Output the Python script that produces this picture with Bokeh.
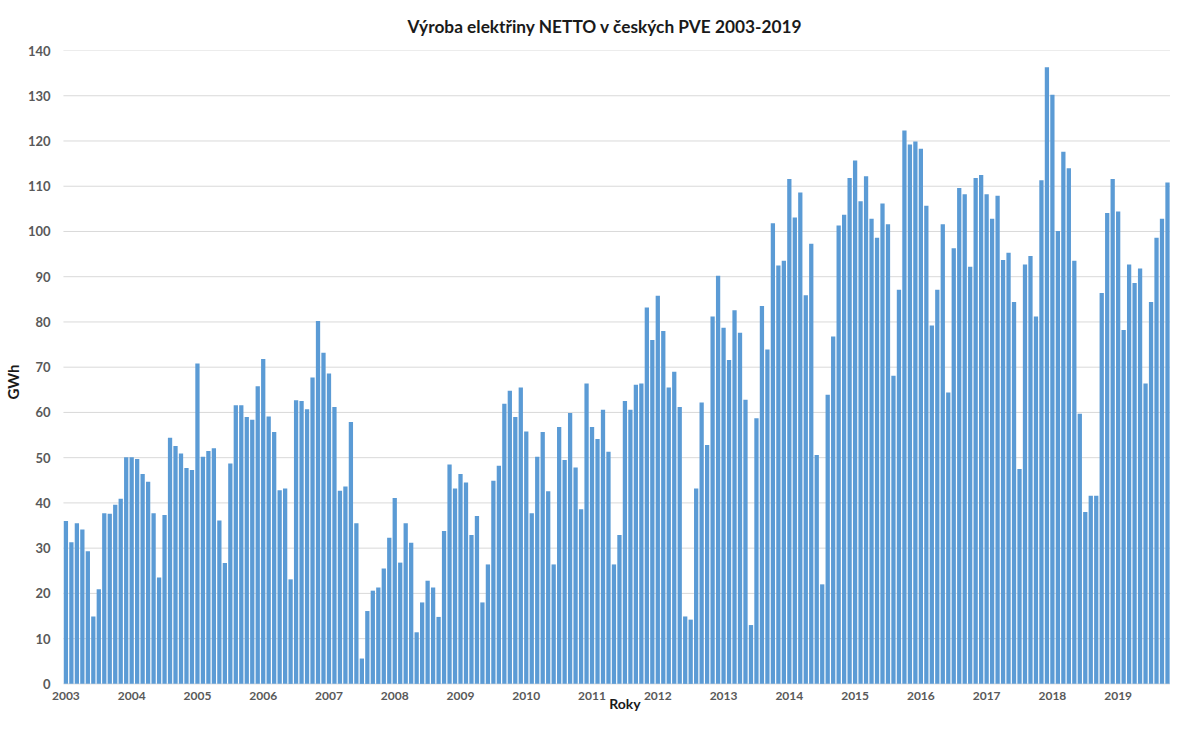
from bokeh.plotting import figure
from bokeh.models import ColumnDataSource, Range1d, FixedTicker, Title
from bokeh.core.properties import value
from bokeh.embed import file_html
from bokeh.resources import INLINE

title_text = "Výroba elektřiny NETTO v českých PVE 2003-2019"
y_label = "GWh"
x_label = "Roky"

years = [str(y) for y in range(2003, 2020)]
y_ticks = list(range(0, 141, 10))

v2003 = [36.0, 31.3, 35.5, 34.1, 29.3, 14.9, 20.9, 37.7, 37.6, 39.6, 40.9, 50.1]
v2004 = [50.1, 49.7, 46.4, 44.7, 37.7, 23.5, 37.3, 54.4, 52.6, 50.9, 47.7, 47.3]
v2005 = [70.8, 50.2, 51.5, 52.1, 36.1, 26.7, 48.7, 61.6, 61.6, 59.0, 58.4, 65.8]
v2006 = [71.8, 59.1, 55.7, 42.8, 43.2, 23.1, 62.7, 62.5, 60.7, 67.7, 80.2, 73.2]
v2007 = [68.6, 61.2, 42.7, 43.6, 57.9, 35.5, 5.6, 16.1, 20.6, 21.3, 25.5, 32.3]
v2008 = [41.1, 26.8, 35.5, 31.2, 11.4, 18.0, 22.8, 21.3, 14.8, 33.8, 48.5, 43.2]
v2009 = [46.4, 44.5, 32.9, 37.1, 18.0, 26.4, 44.9, 48.2, 61.9, 64.8, 59.0, 65.5]
v2010 = [55.8, 37.7, 50.2, 55.7, 42.6, 26.4, 56.8, 49.5, 59.9, 47.8, 38.6, 66.4]
v2011 = [56.8, 54.1, 60.6, 51.3, 26.4, 32.9, 62.5, 60.6, 66.1, 66.4, 83.2, 76.0]
v2012 = [85.8, 78.0, 65.5, 69.0, 61.2, 14.9, 14.2, 43.2, 62.2, 52.8, 81.2, 90.2]
v2013 = [78.7, 71.6, 82.6, 77.6, 62.8, 13.0, 58.7, 83.5, 73.9, 101.8, 92.5, 93.5]
v2014 = [111.6, 103.1, 108.6, 85.9, 97.3, 50.6, 22.0, 63.9, 76.8, 101.3, 103.7, 111.8]
v2015 = [115.7, 106.7, 112.2, 102.8, 98.6, 106.2, 101.6, 68.1, 87.1, 122.3, 119.2, 119.9]
v2016 = [118.3, 105.7, 79.2, 87.1, 101.6, 64.4, 96.3, 109.6, 108.2, 92.2, 111.8, 112.5]
v2017 = [108.2, 102.8, 107.9, 93.7, 95.3, 84.4, 47.5, 92.7, 94.6, 81.2, 111.3, 136.3]
v2018 = [130.2, 100.1, 117.6, 114.0, 93.5, 59.7, 38.0, 41.6, 41.6, 86.4, 104.1, 111.6]
v2019 = [104.4, 78.2, 92.7, 88.6, 91.8, 66.4, 84.4, 98.6, 102.8, 110.8]

series = [v2003, v2004, v2005, v2006, v2007, v2008, v2009, v2010, v2011,
          v2012, v2013, v2014, v2015, v2016, v2017, v2018, v2019]

values = [v for yr in series for v in yr]
month_idx = list(range(len(values)))
source = ColumnDataSource(data=dict(x=month_idx, gwh=values))

tick_pos = [12 * i for i in range(len(years))]
year_src = ColumnDataSource(data=dict(x=tick_pos, y=[0] * len(years), label=years))

FONT = "Lato"
GRAY = "#595959"
DARK = "#1a1a1a"
GRID = "#d9d9d9"

n = len(values)
bar_start = -0.45
bar_end = n - 0.45
px_per_month = (1178 - 66.5) / (bar_end - bar_start)
x_left = bar_start - 13.0 / px_per_month      # room for the first year label
y_bottom = -6.55                              # room below zero for the year labels

p = figure(width=1170, height=713, output_backend="svg", toolbar_location=None,
           x_range=Range1d(x_left, bar_end),
           y_range=Range1d(y_bottom, 140), x_axis_location=None,
           min_border_left=46, min_border_right=0, min_border_bottom=0,
           min_border_top=0)
p.outline_line_color = None
p.xgrid.visible = False
p.ygrid.visible = False

p.title = Title(text=title_text, align="left", offset=357, text_font=FONT,
                text_font_size="17.3px", text_font_style="bold",
                text_color=DARK, standoff=27)

# horizontal gridlines (start at the plot-area edge, like the original)
p.segment(x0=[bar_start] * len(y_ticks), x1=[bar_end] * len(y_ticks),
          y0=y_ticks, y1=y_ticks, line_color=GRID, line_width=1)

p.vbar(x="x", top="gwh", width=0.78, source=source,
       fill_color="#5b9bd5", line_color=None)

# y axis
yax = p.yaxis[0]
yax.ticker = FixedTicker(ticks=y_ticks)
yax.axis_line_color = None
yax.major_tick_out = 0
yax.major_tick_in = 0
yax.minor_tick_out = 0
yax.minor_tick_in = 0
yax.major_tick_line_color = None
yax.minor_tick_line_color = None
yax.major_label_standoff = 0
yax.major_label_text_font = FONT
yax.major_label_text_font_style = "bold"
yax.major_label_text_color = GRAY
yax.major_label_text_font_size = "13px"
yax.axis_label = y_label
yax.axis_label_text_font = FONT
yax.axis_label_text_font_style = "bold"
yax.axis_label_text_color = DARK
yax.axis_label_text_font_size = "15px"
yax.axis_label_standoff = 3

# x-axis year labels and axis title, placed below the zero line
p.text(x="x", y="y", text="label", source=year_src, y_offset=12,
       text_align="center", text_baseline="middle",
       text_font=value(FONT), text_font_style="bold",
       text_font_size="12px", text_color=GRAY)
p.text(x=[(n - 1) / 2 + 1.5], y=[0], text=[x_label], y_offset=20,
       text_align="center", text_baseline="alphabetic",
       text_font=value(FONT), text_font_style="bold",
       text_font_size="14px", text_color=DARK)

open("out.html", "w").write(file_html(p, INLINE))
